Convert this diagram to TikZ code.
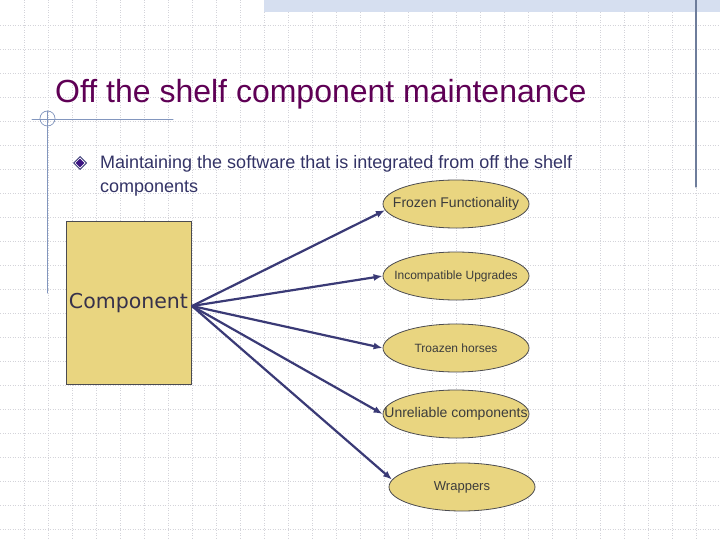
\documentclass[tikz,border=0pt]{standalone}
\usepackage{fontspec}
\setmainfont{Liberation Sans}
\newfontfamily\tahoma{DejaVu Sans}
\usetikzlibrary{shapes.geometric,arrows.meta}
\definecolor{khaki}{RGB}{233,213,128}
\definecolor{edge}{RGB}{75,75,80}
\definecolor{navy}{RGB}{58,58,118}
\definecolor{plum}{RGB}{95,0,85}
\definecolor{ink}{RGB}{51,51,102}
\definecolor{labelgray}{RGB}{60,60,60}
\definecolor{compink}{RGB}{55,50,75}
\definecolor{gem}{RGB}{60,20,130}
\definecolor{grille}{RGB}{212,212,218}
\definecolor{rule}{RGB}{130,150,190}
\definecolor{sideline}{RGB}{110,125,155}
\definecolor{band}{RGB}{214,223,240}
\begin{document}
\begin{tikzpicture}[x=1pt,y=-1pt,line cap=round]
	\tikzstyle{oval}=[ellipse,draw=edge,line width=.8pt,fill=khaki,minimum width=146pt,minimum height=48pt,inner sep=0pt,text=labelgray];
	\tikzstyle{lien}=[draw=navy,line width=2.2pt,-{Latex[length=9pt,width=7pt]}];
	\tikzstyle{gridline}=[draw=grille,line width=.6pt,line cap=butt,dash pattern=on 1pt off 1.5pt];
	%% background
	\useasboundingbox (0,0) rectangle (720,540);
	\fill[white] (0,0) rectangle (720,540);
	\foreach \x in {24,48,...,696} \draw[gridline] (\x,0) -- (\x,540);
	\foreach \y in {25,49,...,529} \draw[gridline] (0,\y) -- (720,\y);
	\fill[band] (264,0) rectangle (720,12);
	\draw[sideline,line width=1.2pt] (696,0) -- (696,187);
	\draw[rule,line width=1pt] (32,119.5) -- (173,119.5);
	\draw[rule,line width=1pt] (47,111) -- (47,293);
	\draw[rule,line width=.7pt] (47.5,118.5) circle (7.5);
	%% title and bullet
	\node[anchor=base west,inner sep=0pt,text=plum,font=\fontsize{32}{36}\selectfont] (title) at (55,103) {Off the shelf component maintenance};
	\fill[navy] (80,156) -- (87,163) -- (80,170) -- (73,163) -- cycle;
	\fill[white] (80,157.5) -- (85.5,163) -- (80,168.5) -- (74.5,163) -- cycle;
	\fill[gem] (80,158.7) -- (84.3,163) -- (80,167.3) -- (75.7,163) -- cycle;
	\node[anchor=base west,inner sep=0pt,align=left,text=ink,font=\fontsize{18}{23.5}\selectfont] (bullet) at (100,192.5)
		{Maintaining the software that is integrated from off the shelf\\components};
	%% graph
	\node[draw=edge,line width=1pt,fill=khaki,minimum width=125pt,minimum height=162pt,inner sep=0pt,
		text=compink,font=\tahoma\fontsize{20.5}{24}\selectfont] (comp) at (128.5,303) {Component};
	\coordinate (hub) at (192,306);
	\node[oval,font=\fontsize{14}{16}\selectfont] (fz) at (456,204) {\makebox[0pt]{Frozen Functionality}};
	\node[oval,font=\fontsize{12}{14}\selectfont] (iu) at (456,276) {\makebox[0pt]{Incompatible Upgrades}};
	\node[oval,font=\fontsize{12}{14}\selectfont] (th) at (456,348) {\makebox[0pt]{Troazen horses}};
	\node[oval,font=\fontsize{14}{16}\selectfont] (uc) at (456,414) {\makebox[0pt]{Unreliable components}};
	\node[oval,font=\fontsize{13}{15}\selectfont] (wr) at (462,487) {\makebox[0pt]{Wrappers}};
	\draw[lien] (hub) -- (fz.185);
	\draw[lien] (hub) -- (iu.west);
	\draw[lien] (hub) -- (th.west);
	\draw[lien] (hub) -- (uc.west);
	\draw[lien] (hub) -- (wr.174);
\end{tikzpicture}
\end{document}
